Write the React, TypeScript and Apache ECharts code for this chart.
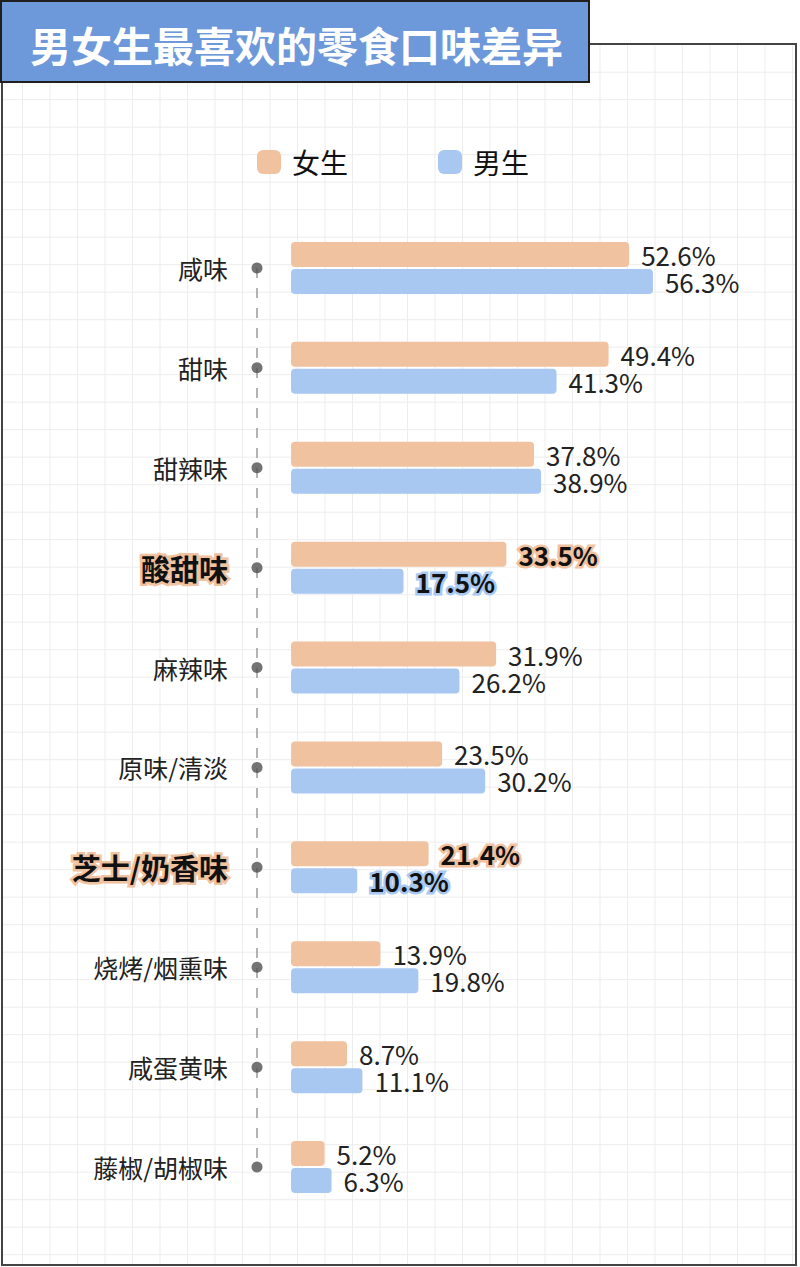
import { useEffect, useRef } from 'react';
import * as echarts from 'echarts';

// chart data
const categories = ['咸味', '甜味', '甜辣味', '酸甜味', '麻辣味', '原味/清淡', '芝士/奶香味', '烧烤/烟熏味', '咸蛋黄味', '藤椒/胡椒味'];
const femaleValues = [52.6, 49.4, 37.8, 33.5, 31.9, 23.5, 21.4, 13.9, 8.7, 5.2];
const maleValues = [56.3, 41.3, 38.9, 17.5, 26.2, 30.2, 10.3, 19.8, 11.1, 6.3];
const highlighted = ['酸甜味', '芝士/奶香味'];
const seriesNames = ['女生', '男生'];

const FEMALE_COLOR = '#f0c29f';
const MALE_COLOR = '#a8c8f2';
const X_MIN = -5.3;
const FONT = '"Noto Sans CJK SC", "Noto Sans", sans-serif';

function barData(values: number[], color: string) {
  return values.map((v, i) => {
    if (!highlighted.includes(categories[i])) return v;
    return {
      value: v,
      label: {
        fontWeight: 'bold',
        fontSize: 26,
        color: '#111',
        textBorderColor: color,
        textBorderWidth: 5,
      },
    };
  });
}

const valueLabel = {
  show: true,
  position: 'right',
  distance: 12,
  fontSize: 26,
  lineHeight: 26,
  color: '#222',
  fontFamily: FONT,
  formatter: (p: any) => `${p.value}%`,
};

export default function App() {
  const chartRef = useRef<HTMLDivElement>(null);

  useEffect(() => {
    document.body.style.margin = '0';
    if (!chartRef.current) return;
    const chart = echarts.init(chartRef.current, null, { renderer: 'svg' });

    const option: echarts.EChartsOption = {
      animation: false,
      textStyle: { fontFamily: FONT },
      legend: {
        data: seriesNames,
        left: 252,
        top: 143,
        itemWidth: 24,
        itemHeight: 24,
        itemGap: 90,
        icon: 'roundRect',
        textStyle: { fontSize: 28, color: '#111', fontFamily: FONT, padding: [0, 0, 0, 6] },
      },
      grid: {
        left: 257,
        top: 218,
        width: 484,
        height: 999,
        containLabel: false,
      },
      xAxis: {
        type: 'value',
        min: X_MIN,
        max: 70,
        show: false,
      },
      yAxis: {
        type: 'category',
        data: categories,
        inverse: true,
        axisLine: { show: false },
        axisTick: { show: false },
        splitLine: { show: false },
        axisLabel: {
          margin: 29,
          fontSize: 25,
          color: '#222',
          fontFamily: FONT,
          formatter: (v: string) => (highlighted.includes(v) ? `{hl|${v}}` : v),
          rich: {
            hl: {
              fontSize: 29,
              fontWeight: 'bold',
              color: '#111',
              fontFamily: FONT,
              textBorderColor: FEMALE_COLOR,
              textBorderWidth: 5,
            },
          },
        },
      },
      graphic: [
        {
          type: 'rect',
          shape: { x: 1, y: 1, width: 588, height: 81 },
          style: { fill: '#6d98da', stroke: '#1f1f1f', lineWidth: 2 },
          z: 10,
        },
        {
          type: 'text',
          x: 30,
          y: 44,
          style: {
            text: '男女生最喜欢的零食口味差异',
            fill: '#fff',
            fontSize: 41,
            fontWeight: 'bold',
            fontFamily: FONT,
            verticalAlign: 'middle',
          },
          z: 11,
        },
      ],
      series: [
        {
          type: 'line',
          data: categories.map(c => [X_MIN, c]),
          symbol: 'none',
          lineStyle: { color: '#9a9a9a', width: 1.5, type: [10, 10] },
          silent: true,
          z: 1,
        },
        {
          type: 'scatter',
          data: categories.map(c => [X_MIN, c]),
          symbolSize: 11,
          itemStyle: { color: '#505050' },
          silent: true,
          z: 2,
        },
        {
          name: seriesNames[0],
          type: 'bar',
          data: barData(femaleValues, FEMALE_COLOR),
          barWidth: 25,
          barGap: '8%',
          itemStyle: { color: FEMALE_COLOR, borderRadius: 4 },
          label: valueLabel,
        },
        {
          name: seriesNames[1],
          type: 'bar',
          data: barData(maleValues, MALE_COLOR),
          barWidth: 25,
          itemStyle: { color: MALE_COLOR, borderRadius: 4 },
          label: valueLabel,
        },
      ],
    };

    chart.setOption(option);
    return () => chart.dispose();
  }, []);

  return (
    <div style={{ position: 'relative', width: 800, height: 1267, background: '#fff', overflow: 'hidden' }}>
      <div
        style={{
          position: 'absolute',
          left: 1,
          top: 43,
          width: 796,
          height: 1223,
          boxSizing: 'border-box',
          border: '2px solid #444',
          backgroundImage:
            'linear-gradient(to right, #ededed 1px, transparent 1px), linear-gradient(to bottom, #ededed 1px, transparent 1px)',
          backgroundSize: '27.5px 27.5px',
          backgroundPosition: '19px 26.7px',
        }}
      />
      <div ref={chartRef} style={{ position: 'absolute', left: 0, top: 0, width: 800, height: 1267 }} />
    </div>
  );
}
